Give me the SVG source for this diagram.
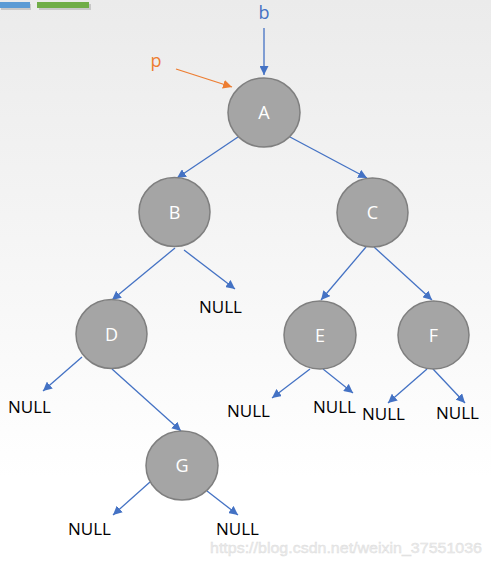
<svg xmlns="http://www.w3.org/2000/svg" width="491" height="563" viewBox="0 0 491 563">
<defs>
<linearGradient id="bg" x1="0" y1="0" x2="0" y2="1">
<stop offset="0" stop-color="#ebebeb"/>
<stop offset="0.85" stop-color="#ffffff"/>
<stop offset="1" stop-color="#ffffff"/>
</linearGradient>
<marker id="ab" viewBox="0 0 10 10" refX="10" refY="5" markerWidth="9" markerHeight="9" markerUnits="userSpaceOnUse" orient="auto">
<path d="M0,0 L10,5 L0,10 Z" fill="#4472c4"/>
</marker>
<marker id="ao" viewBox="0 0 10 10" refX="10" refY="5" markerWidth="9" markerHeight="9" markerUnits="userSpaceOnUse" orient="auto">
<path d="M0,0 L10,5 L0,10 Z" fill="#ed7d31"/>
</marker>
</defs>
<style>
.node ellipse{fill:#a5a5a5;stroke:#7f7f7f;stroke-width:1.5}
.node text{fill:#ffffff;font-family:"Open Sans","Noto Sans",sans-serif;font-size:18px;text-anchor:middle}
.e{stroke:#4472c4;stroke-width:1.3;fill:none;marker-end:url(#ab)}
.null{fill:#000000;font-family:"Open Sans","Noto Sans",sans-serif;font-size:17px}
</style>
<rect width="491" height="563" fill="url(#bg)"/>
<g id="bars">
<rect x="1" y="4" width="30" height="6" fill="#c8c8c8"/>
<rect x="39" y="4" width="52" height="6" fill="#c8c8c8"/>
<rect x="0" y="2" width="30" height="6" fill="#5b9bd5"/>
<rect x="37" y="2" width="52" height="6" fill="#70ad47"/>
</g>
<g id="connectors">
<line x1="264" y1="28" x2="264" y2="75" class="e"/>
<line x1="176" y1="69" x2="232" y2="87" stroke="#ed7d31" stroke-width="1.3" marker-end="url(#ao)"/>
<line x1="238" y1="137" x2="177" y2="178" class="e"/>
<line x1="290" y1="137" x2="367" y2="178" class="e"/>
<line x1="175" y1="248" x2="112" y2="300" class="e"/>
<line x1="184" y1="250" x2="235" y2="289" class="e"/>
<line x1="366" y1="247" x2="321" y2="300" class="e"/>
<line x1="374" y1="247" x2="432" y2="300" class="e"/>
<line x1="82" y1="357" x2="43" y2="391" class="e"/>
<line x1="112" y1="369" x2="181" y2="431" class="e"/>
<line x1="310" y1="369" x2="272" y2="398" class="e"/>
<line x1="323" y1="369" x2="353" y2="393" class="e"/>
<line x1="427" y1="369" x2="388" y2="403" class="e"/>
<line x1="433" y1="369" x2="465" y2="403" class="e"/>
<line x1="150" y1="482" x2="113" y2="515" class="e"/>
<line x1="207" y1="491" x2="238" y2="515" class="e"/>
</g>
<g id="labels">
<text x="264" y="19" fill="#4472c4" font-family="Open Sans, Noto Sans, sans-serif" font-size="18" text-anchor="middle">b</text>
<text x="156" y="67" fill="#ed7d31" font-family="Open Sans, Noto Sans, sans-serif" font-size="18" text-anchor="middle">p</text>
</g>
<g id="A" class="node"><ellipse cx="264" cy="112.5" rx="36" ry="34.5"/><text x="264" y="119">A</text></g>
<g id="B" class="node"><ellipse cx="174.5" cy="212" rx="35.5" ry="34.5"/><text x="174.5" y="218.5">B</text></g>
<g id="C" class="node"><ellipse cx="372.5" cy="212.5" rx="35.5" ry="34.5"/><text x="372.5" y="219">C</text></g>
<g id="D" class="node"><ellipse cx="111.5" cy="334" rx="35.5" ry="34.5"/><text x="111.5" y="340.5">D</text></g>
<g id="E" class="node"><ellipse cx="320" cy="335" rx="36" ry="34"/><text x="320" y="341.5">E</text></g>
<g id="F" class="node"><ellipse cx="433.5" cy="335" rx="35.5" ry="34"/><text x="433.5" y="341.5">F</text></g>
<g id="G" class="node"><ellipse cx="182" cy="465.5" rx="36" ry="34.5"/><text x="182" y="472">G</text></g>
<g id="nulls">
<text class="null" x="199" y="313">NULL</text>
<text class="null" x="8" y="413">NULL</text>
<text class="null" x="227" y="417">NULL</text>
<text class="null" x="313" y="413">NULL</text>
<text class="null" x="362" y="420">NULL</text>
<text class="null" x="436" y="419">NULL</text>
<text class="null" x="68" y="535">NULL</text>
<text class="null" x="216" y="535">NULL</text>
</g>
<text id="watermark" x="210" y="553" fill="#ececec" stroke="#dcdcdc" stroke-width="0.4" font-family="Liberation Sans, Arial, sans-serif" font-size="15" textLength="272" lengthAdjust="spacingAndGlyphs">https://blog.csdn.net/weixin_37551036</text>
</svg>
